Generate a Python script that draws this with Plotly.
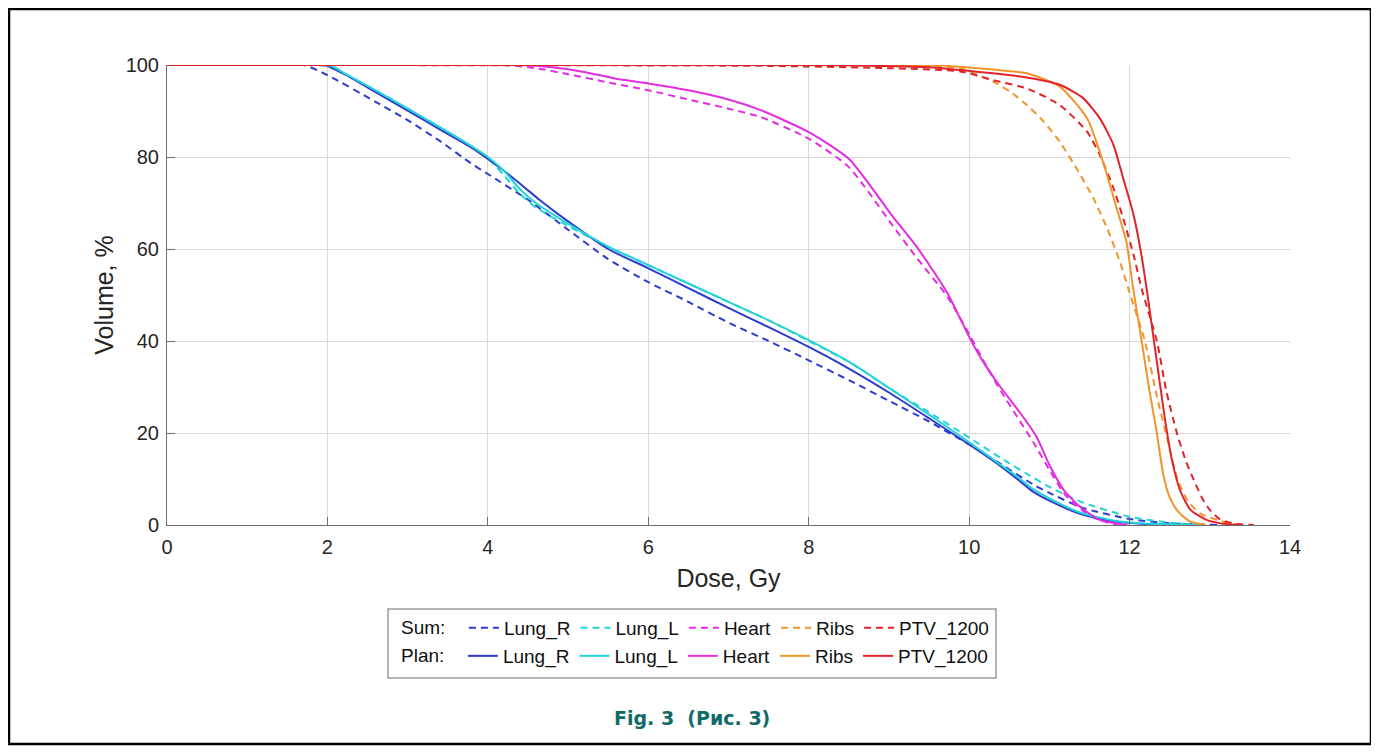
import plotly.graph_objects as go

# ---------------- data ----------------
# Plan curves
lung_r_plan_dose = [0, 1.85, 2.0, 2.2, 2.6, 3.0, 3.4, 3.8, 4.0, 4.2, 4.45, 4.65, 5.0, 5.5, 6.0, 6.5, 7.0, 7.5, 8.0, 8.5, 9.0, 9.5, 10.0, 10.4, 10.6, 10.8, 11.0, 11.4, 11.8, 12.2, 12.8]
lung_r_plan_vol = [100, 100, 99.8, 98.1, 94.1, 90.1, 86, 82, 79.6, 77, 73.5, 70.6, 66, 60, 55.8, 51.5, 47.2, 43, 38.7, 34, 28.8, 23.2, 17.5, 12.7, 10, 7.2, 5.3, 2.3, 0.8, 0.2, 0]

lung_l_plan_dose = [0, 1.9, 2.05, 2.2, 2.6, 3.0, 3.4, 3.8, 4.0, 4.2, 4.4, 4.6, 5.0, 5.5, 6.0, 6.5, 7.0, 7.5, 8.0, 8.5, 9.0, 9.5, 10.0, 10.4, 10.6, 10.8, 11.0, 11.4, 11.8, 12.2, 12.9]
lung_l_plan_vol = [100, 100, 99.8, 98.3, 94.5, 90.5, 86.5, 82.3, 80, 77, 73, 70, 65.5, 60.5, 56.5, 52.5, 48.5, 44.5, 40.2, 35.5, 29.8, 24, 18, 13, 10.5, 7.8, 5.8, 2.6, 1, 0.3, 0]

heart_plan_dose = [0, 4.4, 4.8, 5.2, 5.6, 6.0, 6.5, 7.0, 7.4, 8.0, 8.5, 9.05, 9.35, 9.73, 10.0, 10.16, 10.39, 10.64, 10.84, 11.01, 11.18, 11.38, 11.63, 11.97]
heart_plan_vol = [100, 100, 99.5, 98.5, 97, 96, 94.5, 92.5, 90.2, 85.4, 79.6, 67, 60.4, 50.4, 40.9, 35.9, 30, 24.3, 19.2, 12.7, 7.6, 4, 1.1, 0]

ribs_plan_dose = [0, 9.5, 9.9, 10.3, 10.72, 11.13, 11.47, 11.67, 11.84, 11.96, 12.04, 12.15, 12.25, 12.34, 12.42, 12.5, 12.6, 12.75, 12.95]
ribs_plan_vol = [100, 100, 99.6, 99, 98.2, 95.3, 88.4, 78.9, 68.8, 61.6, 52, 40, 29, 20, 11, 6, 3, 0.8, 0]

ptv_plan_dose = [0, 8.0, 9.5, 9.89, 10.72, 11.13, 11.42, 11.63, 11.8, 11.92, 12.05, 12.14, 12.22, 12.3, 12.38, 12.45, 12.53, 12.63, 12.76, 12.96, 13.15, 13.34]
ptv_plan_vol = [100, 100, 99.5, 98.9, 97.3, 95.7, 92.8, 88.4, 82.6, 75.4, 67.4, 59.5, 50.5, 40.5, 30.5, 22, 14, 7.5, 3.3, 1.1, 0.3, 0]

# Sum curves
lung_r_sum_dose = [0, 1.7, 2.0, 2.6, 3.0, 3.4, 3.8, 4.0, 4.5, 5.0, 5.5, 6.0, 6.5, 7.0, 7.5, 8.0, 8.5, 9.0, 9.5, 10.0, 10.4, 10.8, 11.0, 11.4, 12.0, 12.5, 13.1]
lung_r_sum_vol = [100, 100, 97.8, 92, 88, 83.5, 78.5, 76.3, 70.7, 64.2, 57.8, 52.8, 48.5, 44, 40, 35.8, 31.5, 27, 22.5, 17.5, 13.2, 8.8, 7, 3.8, 1.3, 0.4, 0]

lung_l_sum_dose = [0, 1.9, 2.05, 2.2, 2.6, 3.0, 3.4, 3.8, 4.0, 4.2, 4.4, 4.6, 5.0, 5.5, 6.0, 6.5, 7.0, 7.5, 8.0, 8.5, 9.0, 9.5, 10.0, 10.4, 10.8, 11.0, 11.4, 12.0, 12.5, 12.9]
lung_l_sum_vol = [100, 100, 99.8, 98.3, 94.5, 90.5, 86.5, 82.3, 79.8, 76, 72, 69, 65, 60.5, 56.5, 52.5, 48.5, 44.5, 40, 35.5, 29.8, 24.5, 19, 14.5, 10.3, 8.3, 5, 1.8, 0.5, 0]

heart_sum_dose = [0, 4.2, 4.6, 5.0, 5.5, 6.0, 6.5, 7.0, 7.4, 8.0, 8.5, 9.05, 9.35, 9.73, 10.0, 10.2, 10.4, 10.6, 10.8, 11.0, 11.2, 11.4, 11.6, 11.85]
heart_sum_vol = [100, 100, 99.3, 98, 96.2, 94.5, 92.5, 90.5, 88.7, 84, 77.8, 65, 58, 49.6, 41.5, 35, 29, 23.5, 18, 12, 6.5, 3.3, 1.2, 0]

ribs_sum_dose = [0, 9.0, 9.5, 9.89, 10.3, 10.51, 10.72, 10.93, 11.13, 11.34, 11.55, 11.72, 11.88, 12.0, 12.19, 12.34, 12.48, 12.6, 12.72, 12.88, 13.09, 13.25, 13.42]
ribs_sum_vol = [100, 100, 99.7, 99.3, 96.4, 94.2, 91.3, 87.7, 83.3, 77.5, 71, 64.5, 57.2, 50.5, 40, 28, 18, 9.8, 5.4, 2.5, 1.1, 0.4, 0]

ptv_sum_dose = [0, 7.5, 9.0, 9.89, 10.3, 10.72, 11.13, 11.47, 11.63, 11.8, 11.92, 12.05, 12.15, 12.34, 12.46, 12.59, 12.7, 12.8, 12.9, 13.0, 13.13, 13.3, 13.55]
ptv_sum_vol = [100, 99.8, 99.3, 98.6, 96.7, 94.9, 91.3, 85.5, 80.4, 73.2, 66.7, 58.7, 51.4, 40, 29, 20, 14, 9.8, 6, 3.3, 1.2, 0.3, 0]

structures = ["Lung_R", "Lung_L", "Heart", "Ribs", "PTV_1200"]
colors = ["#2b3ccf", "#25d2d8", "#e22de2", "#f0952c", "#e0242a"]
sum_series = [(lung_r_sum_dose, lung_r_sum_vol), (lung_l_sum_dose, lung_l_sum_vol),
              (heart_sum_dose, heart_sum_vol), (ribs_sum_dose, ribs_sum_vol),
              (ptv_sum_dose, ptv_sum_vol)]
plan_series = [(lung_r_plan_dose, lung_r_plan_vol), (lung_l_plan_dose, lung_l_plan_vol),
               (heart_plan_dose, heart_plan_vol), (ribs_plan_dose, ribs_plan_vol),
               (ptv_plan_dose, ptv_plan_vol)]

x_ticks = [0, 2, 4, 6, 8, 10, 12, 14]
y_ticks = [0, 20, 40, 60, 80, 100]

# ---------------- figure ----------------
OFF = 8                      # page body margin
W, H = 1379 - OFF, 752 - OFF
L, R, T, B = 167 - OFF, 89, 65 - OFF, 227
pw, ph = W - L - R, H - T - B


def px_x(p):  # page pixel -> paper x
    return (p - OFF - L) / pw


def px_y(p):  # page pixel -> paper y
    return (H - B - (p - OFF)) / ph


FONT = "Liberation Sans, Arial, Helvetica, sans-serif"

fig = go.Figure()
for name, col, (d, v) in zip(structures, colors, sum_series):
    fig.add_trace(go.Scatter(x=d, y=v, mode="lines", name=name, legend="legend",
                             line=dict(color=col, width=2, dash="7px,5px",
                                       shape="spline", smoothing=0.6)))
for name, col, (d, v) in zip(structures, colors, plan_series):
    fig.add_trace(go.Scatter(x=d, y=v, mode="lines", name=name, legend="legend2",
                             line=dict(color=col, width=2, shape="spline", smoothing=0.6)))

legend_common = dict(orientation="h", xanchor="left", yanchor="middle",
                     bgcolor="rgba(0,0,0,0)", borderwidth=0,
                     font=dict(family=FONT, size=19, color="#111111"),
                     itemclick=False, itemdoubleclick=False)
title_font = dict(family=FONT, size=19, color="#111111")
fig.update_layout(
    width=W, height=H,
    margin=dict(l=L, r=R, t=T, b=B),
    paper_bgcolor="white", plot_bgcolor="white",
    showlegend=True,
    legend=dict(x=px_x(399), y=px_y(628),
                title=dict(text="Sum:\u00a0\u00a0", side="left", font=title_font),
                **legend_common),
    legend2=dict(x=px_x(399), y=px_y(656),
                 title=dict(text="Plan:\u00a0\u00a0", side="left", font=title_font),
                 **legend_common),
    xaxis=dict(range=[0, 14], tickvals=x_ticks, ticks="inside", ticklen=8, tickcolor="#6e6e6e",
               showline=True, linecolor="#6e6e6e", linewidth=1, mirror=False,
               showgrid=True, gridcolor="#d9d9d9", gridwidth=1, zeroline=False,
               ticklabelstandoff=4,
               tickfont=dict(family=FONT, size=20, color="#262626"),
               title=dict(text="Dose, Gy", font=dict(family=FONT, size=25, color="#262626"), standoff=12)),
    yaxis=dict(range=[0, 100], tickvals=y_ticks, ticks="inside", ticklen=8, tickcolor="#6e6e6e",
               showline=True, linecolor="#6e6e6e", linewidth=1, mirror=False,
               showgrid=True, gridcolor="#d9d9d9", gridwidth=1, zeroline=False,
               ticklabelstandoff=3,
               tickfont=dict(family=FONT, size=20, color="#262626"),
               title=dict(text="Volume, %", font=dict(family=FONT, size=25, color="#262626"), standoff=4)),
    shapes=[
        # legend box
        dict(type="rect", xref="paper", yref="paper",
             x0=px_x(388), x1=px_x(996), y0=px_y(609), y1=px_y(678),
             line=dict(color="#9a9a9a", width=1.5), fillcolor="rgba(0,0,0,0)", layer="below"),
        # outer frame
        dict(type="rect", xref="paper", yref="paper",
             x0=px_x(9), x1=px_x(1371), y0=px_y(9), y1=px_y(744),
             line=dict(color="black", width=2.5), fillcolor="rgba(0,0,0,0)"),
    ],
    annotations=[
        dict(text="<b>Fig. 3 \u00a0(Рис. 3)</b>", xref="paper", yref="paper",
             x=px_x(692), y=px_y(718), xanchor="center", yanchor="middle", showarrow=False,
             font=dict(family="DejaVu Sans, sans-serif", size=19, color="#0f6b66")),
    ],
)

fig.write_html("out.html")
